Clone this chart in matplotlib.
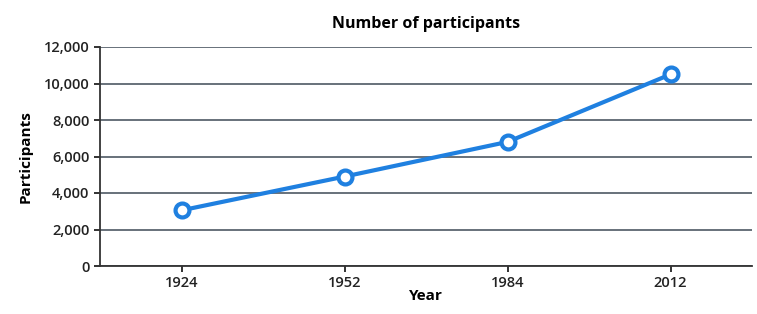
import matplotlib

matplotlib.use("Agg")
import matplotlib.pyplot as plt
from matplotlib.ticker import FuncFormatter

years = ["1924", "1952", "1984", "2012"]
participants = [3050, 4900, 6800, 10500]
y_ticks = [0, 2000, 4000, 6000, 8000, 10000, 12000]

plt.rcParams["font.family"] = ["Open Sans", "DejaVu Sans"]

fig = plt.figure(figsize=(7.57, 3.14), dpi=100)
ax = fig.add_axes([100 / 757, 48 / 314, 652 / 757, 219 / 314])

x = range(len(years))
ax.plot(x, participants, color="#1f80e0", lw=3, marker="o", ms=10,
        mfc="white", mec="#1f80e0", mew=3, zorder=3)

ax.set_xlim(-0.5, len(years) - 0.5)
ax.set_ylim(0, 12000)
ax.set_xticks(list(x))
ax.set_xticklabels(years)
ax.set_yticks(y_ticks)
ax.yaxis.set_major_formatter(FuncFormatter(lambda v, _: f"{int(v):,}"))
ax.grid(axis="y", color="#5c6670", lw=1.3)
ax.set_axisbelow(True)

for side in ("top", "right"):
    ax.spines[side].set_visible(False)
for side in ("left", "bottom"):
    ax.spines[side].set_color("#333333")
    ax.spines[side].set_linewidth(1.3)
ax.tick_params(colors="#222222", labelsize=10.5, length=4, width=1.3, direction="out")
for lbl in ax.get_xticklabels() + ax.get_yticklabels():
    lbl.set_fontweight("semibold")

ax.set_title("Number of participants", fontsize=11.5, fontweight="bold", pad=14)
ax.set_ylabel("Participants", fontsize=11, fontweight="bold", labelpad=8)
ax.set_xlabel("Year", fontsize=11, fontweight="bold", labelpad=-1)

fig.savefig("out.png", dpi=100)
